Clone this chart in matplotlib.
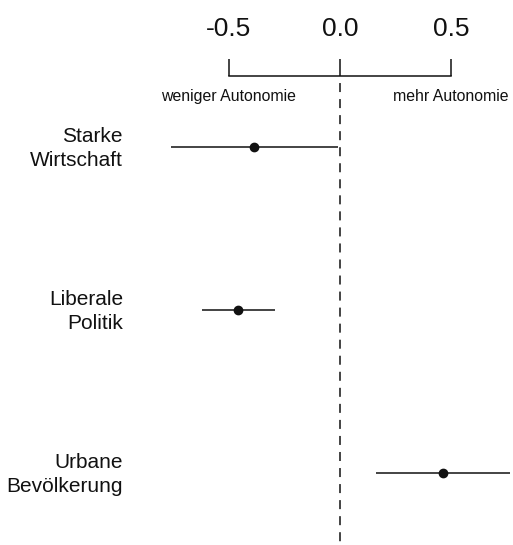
import matplotlib
matplotlib.use("Agg")
import matplotlib.pyplot as plt

plt.rcParams['font.family'] = ['Liberation Sans', 'DejaVu Sans']

categories = ["Starke\nWirtschaft", "Liberale\nPolitik", "Urbane\nBevölkerung"]
estimates = [-0.385, -0.457, 0.462]
ci_low = [-0.761, -0.619, 0.161]
ci_high = [-0.008, -0.292, 0.764]
tick_values = [-0.5, 0.0, 0.5]
tick_labels = ["-0.5", "0.0", "0.5"]
side_labels = ["weniger Autonomie", "mehr Autonomie"]

W, H = 513, 545
fig = plt.figure(figsize=(W / 100, H / 100), dpi=100)
ax = fig.add_axes([140 / W, 0, 1 - 140 / W, 1 - 76 / H])

ypos = list(range(len(categories)))
y_top, y_bottom = -0.435, 2.445

# dashed reference line at zero, drawn downward from the axis line
ax.plot([0, 0], [y_top, y_bottom], color="#111111", lw=1.1,
        linestyle=(5.9, (5.9, 4.6)), zorder=1)

for y, lo, hi, est in zip(ypos, ci_low, ci_high, estimates):
    ax.plot([lo, hi], [y, y], color="#111111", lw=1.1, solid_capstyle="butt",
            clip_on=False, zorder=2)
    ax.plot([est], [y], "o", color="#111111", markersize=6, clip_on=False, zorder=3)

ax.set_xlim(-200 / 222.4, 173 / 222.4)
ax.set_ylim(y_bottom, y_top)

for s in ["left", "right", "bottom"]:
    ax.spines[s].set_visible(False)
ax.spines["top"].set_bounds(tick_values[0], tick_values[-1])
ax.spines["top"].set_linewidth(1.1)
ax.spines["top"].set_color("#111111")

ax.xaxis.tick_top()
ax.set_xticks(tick_values)
ax.set_xticklabels(tick_labels, fontsize=19, color="#111111")
ax.tick_params(axis="x", direction="out", length=12.5, width=1.1, pad=13,
               color="#111111")
ax.set_yticks([])

for x, lab in zip([tick_values[0], tick_values[-1]], side_labels):
    ax.text(x, -0.31, lab, ha="center", va="center", fontsize=11.4,
            color="#111111", clip_on=False)

label_x = (123 - 340) / 222.4
for y, lab in zip(ypos, categories):
    ax.text(label_x, y + 0.01, lab, ha="right", va="center", fontsize=15,
            color="#111111", linespacing=1.35, clip_on=False)

fig.savefig("out.png", dpi=100, facecolor="white")
